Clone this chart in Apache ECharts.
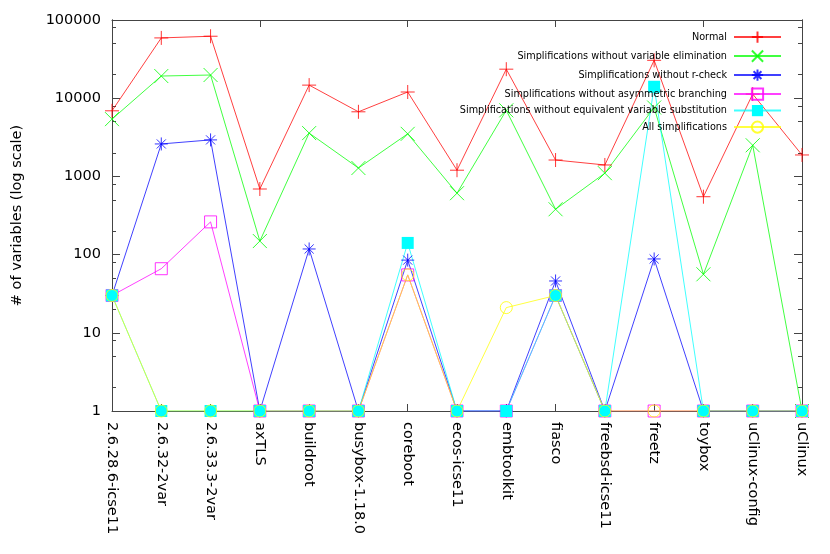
<!DOCTYPE html>
<html>
<head>
<meta charset="utf-8">
<script src="https://cdn.jsdelivr.net/npm/echarts@6/dist/echarts.min.js"></script>
<style>
  html, body { margin: 0; padding: 0; background: #fff; }
  #chart { width: 830px; height: 554px; }
</style>
</head>
<body>
<div id="chart"></div>
<script>
// categories and values
var categories = [
  "2.6.28.6-icse11", "2.6.32-2var", "2.6.33.3-2var", "axTLS", "buildroot",
  "busybox-1.18.0", "coreboot", "ecos-icse11", "embtoolkit", "fiasco",
  "freebsd-icse11", "freetz", "toybox", "uClinux-config", "uClinux"
];
var normal    = [6900, 59000, 62000, 690, 14700, 6700, 12000, 1200, 23500, 1620, 1400, 30500, 550, 11300, 1880];
var noVarElim = [5400, 19200, 19800, 149, 3580, 1280, 3500, 610, 7000, 380, 1100, 7600, 56, 2500, 1];
var noRCheck  = [30, 2600, 2930, 1, 118, 1, 85, 1, 1, 46, 1, 88, 1, 1, 1];
var noAsym    = [30, 66, 262, 1, 1, 1, 55, 1, 1, 30, 1, 1, 1, 1, 1];
var noEquiv   = [30, 1, 1, 1, 1, 1, 141, 1, 1, 30, 1, 14000, 1, 1, 1];
var allSimpl  = [30, 1, 1, 1, 1, 1, 55, 1, 21, 30, 1, 1, 1, 1, 1];
var yTicks = [1, 10, 100, 1000, 10000, 100000];
var yMinorTicks = [2, 5, 8, 20, 50, 80, 200, 500, 800, 2000, 5000, 8000, 20000, 50000, 80000];

var FONT = "DejaVu Sans";
var AXIS = "#444";

var chart = echarts.init(document.getElementById("chart"));

function series(name, data, color, symbol, size, filled) {
  return {
    name: name,
    type: "line",
    data: data,
    symbol: symbol,
    symbolSize: size,
    showAllSymbol: true,
    animation: false,
    lineStyle: { color: color, width: 1, opacity: 0.75 },
    itemStyle: filled
      ? { color: color, borderWidth: 0 }
      : { color: "none", borderColor: color, borderWidth: 1, opacity: 0.8 },
    emphasis: { disabled: true },
  };
}

var plus = "path://M5,0L5,10M0,5L10,5";
var cross = "path://M0,0L10,10M10,0L0,10";
var star = "path://M5,0L5,10M0,5L10,5M1.5,1.5L8.5,8.5M8.5,1.5L1.5,8.5";
var openSquare = "path://M0,0L10,0L10,10L0,10Z";

function yAxis(pos, ticks, len) {
  return {
    type: "log",
    logBase: 10,
    min: 1,
    max: 100000,
    position: pos,
    axisLine: { show: true, lineStyle: { color: AXIS, width: 1 } },
    axisTick: { show: true, inside: true, length: len, customValues: ticks, lineStyle: { color: AXIS } },
    axisLabel: { show: false },
    splitLine: { show: false },
  };
}

var option = {
  backgroundColor: "#fff",
  animation: false,
  grid: { left: 112, right: 28, top: 20, bottom: 143 },
  legend: {
    orient: "vertical",
    align: "right",
    right: 48,
    top: 29,
    padding: 0,
    itemWidth: 47,
    itemHeight: 14,
    itemGap: 2.8,
    textStyle: { fontFamily: FONT, fontSize: 9.7, color: "#000", padding: [0, 2, 0, 0] },
    data: [
      "Normal",
      "Simplifications without variable elimination",
      "Simplifications without r-check",
      "Simplifications without asymmetric branching",
      "Simplifications without equivalent variable substitution",
      "All simplifications",
    ],
  },
  xAxis: [
    {
      type: "category",
      data: categories,
      boundaryGap: false,
      position: "bottom",
      axisLine: { lineStyle: { color: AXIS, width: 1 } },
      axisTick: { inside: true, length: 7, alignWithLabel: true, lineStyle: { color: AXIS } },
      axisLabel: {
        rotate: -90,
        interval: 0,
        margin: 11,
        fontFamily: FONT,
        fontSize: 14.5,
        color: "#000",
      },
    },
    {
      type: "category",
      data: categories,
      boundaryGap: false,
      position: "top",
      axisLine: { lineStyle: { color: AXIS, width: 1 } },
      axisTick: { inside: true, length: 7, lineStyle: { color: AXIS } },
      axisLabel: { show: false },
    },
  ],
  yAxis: [
    {
      type: "log",
      logBase: 10,
      min: 1,
      max: 100000,
      position: "left",
      name: "# of variables (log scale)",
      nameLocation: "middle",
      nameGap: 87,
      nameTextStyle: { fontFamily: FONT, fontSize: 14.5, color: "#000" },
      axisLine: { show: true, lineStyle: { color: AXIS, width: 1 } },
      axisTick: { show: true, inside: true, length: 8, customValues: yTicks, lineStyle: { color: AXIS } },
      axisLabel: {
        customValues: yTicks,
        margin: 11,
        fontFamily: FONT,
        fontSize: 14.5,
        color: "#000",
        formatter: function (v) { return String(Math.round(v)); },
      },
      splitLine: { show: false },
    },
    yAxis("right", yTicks, 8),
    yAxis("left", yMinorTicks, 4),
    yAxis("right", yMinorTicks, 4),
  ],
  series: [
    series("Normal", normal, "#ff0000", plus, 14, false),
    series("Simplifications without variable elimination", noVarElim, "#00ff00", cross, 14, false),
    series("Simplifications without r-check", noRCheck, "#0000ff", star, 13, false),
    series("Simplifications without asymmetric branching", noAsym, "#ff00ff", openSquare, 12, false),
    series("Simplifications without equivalent variable substitution", noEquiv, "#00ffff", "rect", 12, true),
    series("All simplifications", allSimpl, "#ffff00", "circle", 12, false),
  ],
};

chart.setOption(option);
</script>
</body>
</html>
